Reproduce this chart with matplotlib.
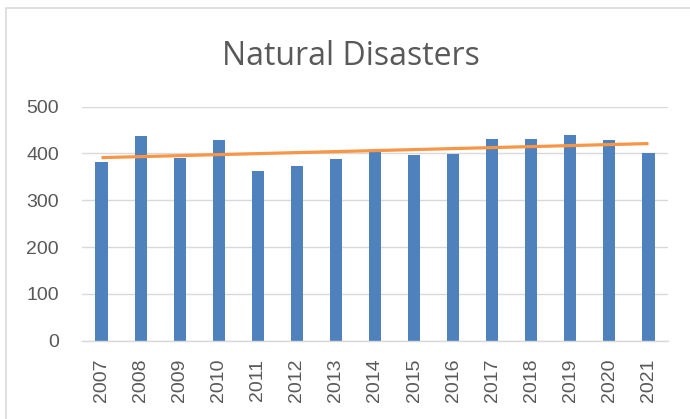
import matplotlib

matplotlib.use("Agg")
import matplotlib.pyplot as plt
import numpy as np
from matplotlib.patches import Rectangle

# Data
years = ["2007", "2008", "2009", "2010", "2011", "2012", "2013", "2014",
         "2015", "2016", "2017", "2018", "2019", "2020", "2021"]
disasters = [382, 437, 391, 429, 362, 373, 388, 404,
             397, 399, 430, 432, 440, 429, 400]
y_ticks = [0, 100, 200, 300, 400, 500]

BAR_COLOR = "#4F81BD"
TREND_COLOR = "#F79646"
GRID_COLOR = "#D9D9D9"
TEXT_COLOR = "#595959"

fig = plt.figure(figsize=(6.9, 4.19), dpi=100)
ax = fig.add_axes([82 / 690, 78.3 / 419, 586 / 690, 234 / 419])

x = np.arange(len(years))
ax.bar(x, disasters, width=0.31, color=BAR_COLOR, zorder=2)

# Linear trendline (least squares over the bars)
slope, intercept = np.polyfit(x, disasters, 1)
ax.plot(x, slope * x + intercept, color=TREND_COLOR, linewidth=2.3,
        solid_capstyle="butt", zorder=3)

ax.set_xlim(-0.5, len(years) - 0.5)
ax.set_ylim(0, 500)
ax.set_yticks(y_ticks)
ax.set_xticks(x)
ax.set_xticklabels(years, rotation=90)
ax.tick_params(axis="both", length=0, labelsize=14, labelcolor=TEXT_COLOR)
ax.tick_params(axis="y", pad=16.5)
ax.tick_params(axis="x", pad=13)
for lbl in ax.get_xticklabels() + ax.get_yticklabels():
    lbl.set_family("Liberation Sans")

ax.grid(axis="y", color=GRID_COLOR, linewidth=1.0, zorder=0)
for side in ("top", "right", "left"):
    ax.spines[side].set_visible(False)
ax.spines["bottom"].set_color(GRID_COLOR)
ax.spines["bottom"].set_linewidth(1.0)

fig.text(351 / 690, 1 - 65 / 419, "Natural Disasters", ha="center", va="baseline",
         fontsize=23, color=TEXT_COLOR, family="Open Sans")

# chart area border (runs past the right and bottom edges of the image)
fig.patches.append(Rectangle((5.5 / 690, -0.05), 1.2, 1 - 8 / 419 + 0.05,
                             transform=fig.transFigure, fill=False,
                             edgecolor=GRID_COLOR, linewidth=1.2))

fig.savefig("out.png", dpi=100)
plt.close(fig)
